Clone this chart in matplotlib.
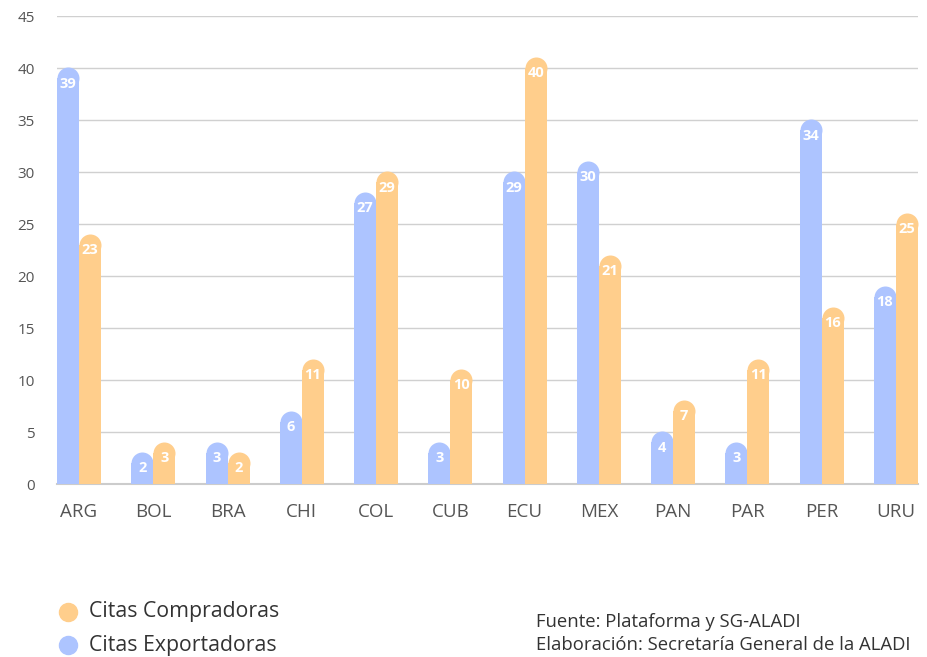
import matplotlib.pyplot as plt
from matplotlib.lines import Line2D
import numpy as np

plt.rcParams['font.family'] = ['Open Sans', 'DejaVu Sans']

# Citas por país
paises = ['ARG', 'BOL', 'BRA', 'CHI', 'COL', 'CUB', 'ECU', 'MEX', 'PAN', 'PAR', 'PER', 'URU']
exportadoras = [39, 2, 3, 6, 27, 3, 29, 30, 4, 3, 34, 18]
compradoras = [23, 3, 2, 11, 29, 10, 40, 21, 7, 11, 16, 25]

azul = '#adc4ff'
naranja = '#ffce8c'

fig = plt.figure(figsize=(9.28, 6.57), dpi=100)
ax = fig.add_axes([57 / 928, 1 - 484 / 657, 861 / 928, 468 / 657])

x = np.arange(len(paises))
w = 0.297
# diámetro del remate redondeado, en puntos (igual al ancho de la barra)
cap_pt = 22 * 72 / 100

for xs, vals, color in [(x - w / 2, exportadoras, azul), (x + w / 2, compradoras, naranja)]:
    ax.bar(xs, vals, width=w, color=color, zorder=3)
    ax.scatter(xs, vals, s=cap_pt ** 2, color=color, marker='o', linewidths=0, zorder=3)
    for xi, v in zip(xs, vals):
        ax.text(xi, v - 0.5, str(v), color='white', fontsize=10.5, fontweight='bold',
                ha='center', va='center', zorder=4)

ax.set_xlim(-w, len(paises) - 1 + w)
ax.set_ylim(0, 45)
ax.set_yticks(range(0, 46, 5))
ax.set_xticks(x)
ax.set_xticklabels(paises)
ax.tick_params(axis='both', length=0, colors='#555555')
ax.tick_params(axis='y', labelsize=11, pad=16)
ax.tick_params(axis='x', labelsize=13.5, pad=14)
for lbl in ax.get_yticklabels():
    lbl.set_horizontalalignment('right')

ax.grid(axis='y', color='#d0d0d0', linewidth=1, zorder=0)
for s in ['top', 'right', 'left']:
    ax.spines[s].set_visible(False)
ax.spines['bottom'].set_color('#cccccc')
ax.spines['bottom'].set_linewidth(1.5)

# Leyenda
series = [('Citas Compradoras', naranja, 612), ('Citas Exportadoras', azul, 645)]
for nombre, color, ypx in series:
    yf = 1 - ypx / 657
    fig.add_artist(Line2D([68 / 928], [yf], marker='o', markersize=13, color=color,
                          linestyle='', transform=fig.transFigure))
    fig.text(89 / 928, yf, nombre, fontsize=15.3, color='#333333', va='center')

fig.text(536 / 928, 1 - 622 / 657, 'Fuente: Plataforma y SG-ALADI', fontsize=13.3,
         color='#333333', va='center')
fig.text(536 / 928, 1 - 645 / 657, 'Elaboración: Secretaría General de la ALADI', fontsize=13.3,
         color='#333333', va='center')

fig.savefig('out.png', dpi=100)
